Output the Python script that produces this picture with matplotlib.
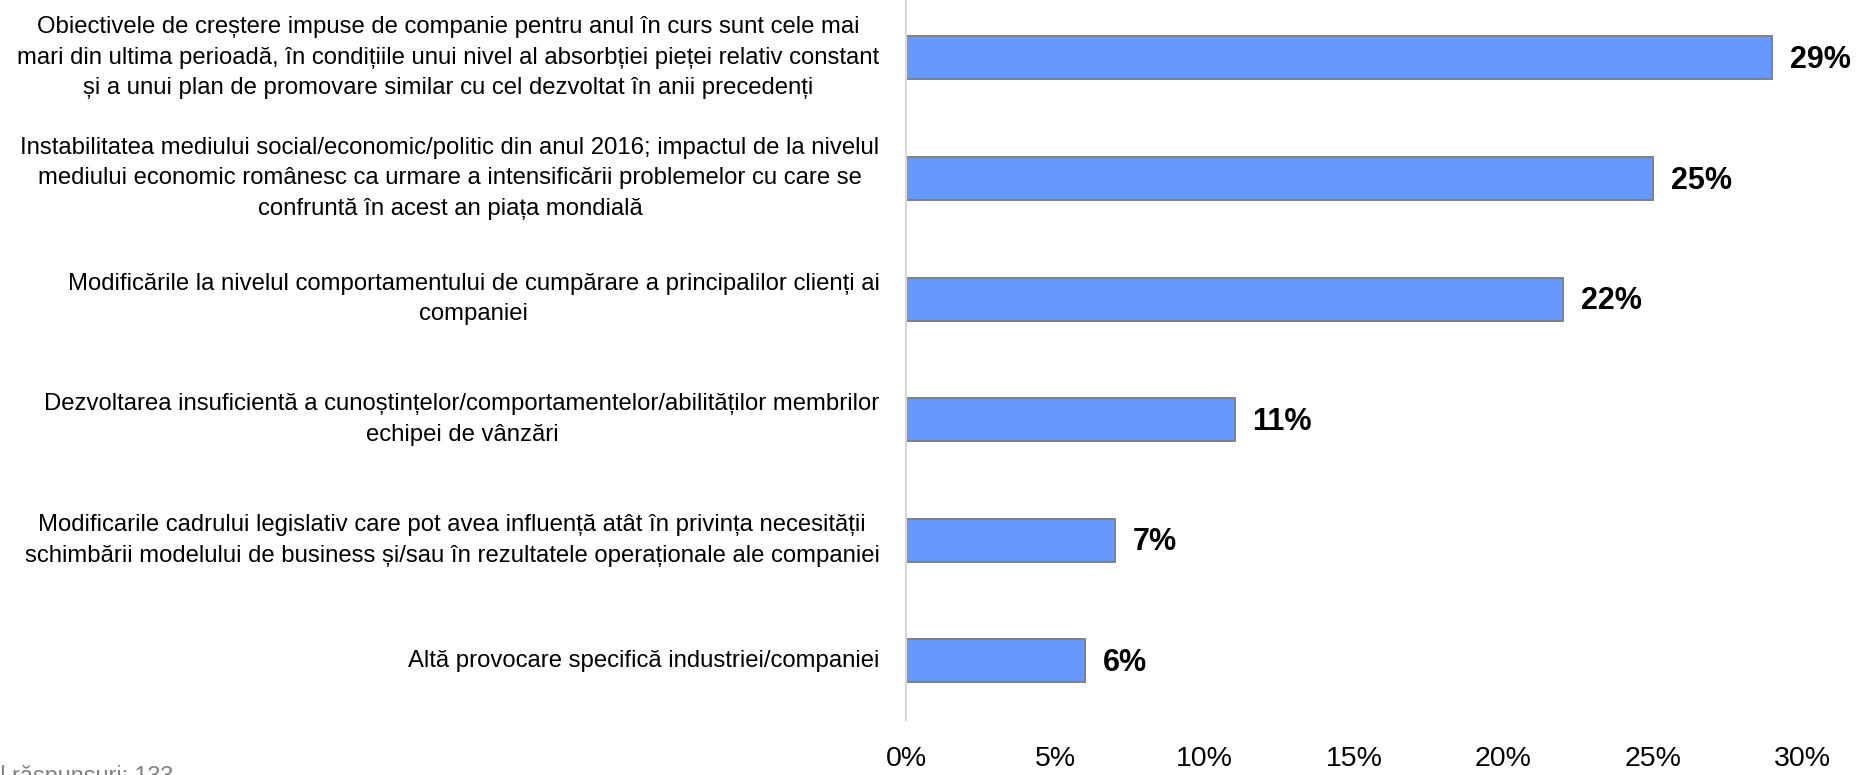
import matplotlib
matplotlib.use('Agg')
import matplotlib.pyplot as plt
from matplotlib.ticker import FuncFormatter

plt.rcParams['font.family'] = ['Liberation Sans', 'DejaVu Sans']

categories = [
    'Obiectivele de creștere impuse de companie pentru anul în curs sunt cele mai\n'
    'mari din ultima perioadă, în condițiile unui nivel al absorbției pieței relativ constant\n'
    'și a unui plan de promovare similar cu cel dezvoltat în anii precedenți',
    'Instabilitatea mediului social/economic/politic din anul 2016; impactul de la nivelul\n'
    'mediului economic românesc ca urmare a intensificării problemelor cu care se\n'
    'confruntă în acest an piața mondială',
    'Modificările la nivelul comportamentului de cumpărare a principalilor clienți ai\n'
    'companiei',
    'Dezvoltarea insuficientă a cunoștințelor/comportamentelor/abilităților membrilor\n'
    'echipei de vânzări',
    'Modificarile cadrului legislativ care pot avea influență atât în privința necesității\n'
    'schimbării modelului de business și/sau în rezultatele operaționale ale companiei',
    'Altă provocare specifică industriei/companiei',
]
values = [29, 25, 22, 11, 7, 6]
x_ticks = [0, 5, 10, 15, 20, 25, 30]
note = 'Total răspunsuri: 133'

W, H = 1857, 775
fig = plt.figure(figsize=(W / 100, H / 100), dpi=100)
ax = fig.add_axes([906 / W, 1 - 720 / H, (1802 - 906) / W, 720 / H])

pos = list(range(len(values)))
ax.barh(pos, values, height=0.357, color='#6699ff', edgecolor='#808080', linewidth=1.4)

for p, v in zip(pos, values):
    ax.annotate(f'{v}%', (v, p), xytext=(13, -1.5), textcoords='offset points',
                ha='left', va='center', fontsize=22, fontweight='bold')

ax.set_xlim(0, 30)
ax.set_ylim(5.49, -0.48)
ax.set_xticks(x_ticks)
ax.xaxis.set_major_formatter(FuncFormatter(lambda x, _: f'{x:.0f}%'))
ax.tick_params(axis='x', length=0, labelsize=20.5, pad=19)
ax.set_yticks([])

for side in ('top', 'right', 'bottom'):
    ax.spines[side].set_visible(False)
ax.spines['left'].set_color('#d9d9d9')
ax.spines['left'].set_linewidth(1.5)

# category labels: block right-aligned, lines centred
for p, c in zip(pos, categories):
    ax.annotate(c, (0, p), xytext=(-19, 0), textcoords='offset points',
                ha='right', va='center', multialignment='center',
                fontsize=17.2, linespacing=1.5)

fig.text(-44 / W, 1 - 765 / H, note, ha='left', va='top', fontsize=16.8, color='#808080')

fig.savefig('out.png', dpi=100)
